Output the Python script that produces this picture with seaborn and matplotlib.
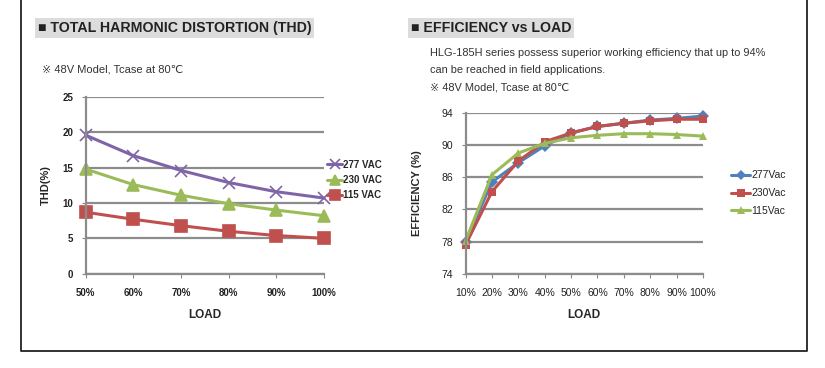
import pandas as pd
import matplotlib
matplotlib.use("Agg")
import matplotlib.pyplot as plt
from matplotlib.lines import Line2D
import seaborn as sns

# données
thd_load = [50, 60, 70, 80, 90, 100]
thd_277 = [19.6, 16.7, 14.6, 12.9, 11.6, 10.7]
thd_230 = [14.8, 12.6, 11.1, 9.9, 9.0, 8.2]
thd_115 = [8.7, 7.7, 6.8, 6.0, 5.4, 5.0]

eff_load = [10, 20, 30, 40, 50, 60, 70, 80, 90, 100]
eff_277 = [78.0, 85.4, 87.8, 89.9, 91.5, 92.3, 92.7, 93.1, 93.3, 93.6]
eff_230 = [77.6, 84.2, 88.0, 90.4, 91.5, 92.3, 92.7, 93.0, 93.2, 93.2]
eff_115 = [78.1, 86.3, 89.0, 90.2, 90.9, 91.2, 91.4, 91.4, 91.3, 91.1]

thd_labels = ["277 VAC", "230 VAC", "115 VAC"]
eff_labels = ["277Vac", "230Vac", "115Vac"]

purple, green, red, blue = "#7f64a8", "#9bbb59", "#c0504d", "#4f81bd"

sns.set_style("white")
plt.rcParams['font.family'] = ['Liberation Sans', 'DejaVu Sans', 'Noto Sans CJK SC']

W, H = 825, 368
fig = plt.figure(figsize=(W / 100, H / 100), dpi=100)


def box(x0, y0, x1, y1):
    return [x0 / W, 1 - y1 / H, (x1 - x0) / W, (y1 - y0) / H]


def style_ax(ax, ymin, ymax, step, xticks, fs, fw):
    ax.set_ylim(ymin, ymax)
    ax.set_xlim(xticks[0], xticks[-1])
    ax.set_yticks(range(ymin, ymax + 1, step))
    ax.set_yticklabels([str(v) for v in range(ymin, ymax + 1, step)], fontsize=fs, fontweight=fw)
    ax.set_xticks(xticks)
    ax.set_xticklabels([f"{t}%" for t in xticks], fontsize=fs, fontweight=fw)
    ax.tick_params(axis="y", length=3, color="#888888", direction="out", pad=6, left=True,
                   labelcolor="#222222")
    ax.tick_params(axis="x", length=3, color="#888888", direction="out", pad=7, bottom=True,
                   labelcolor="#222222")
    ax.yaxis.grid(True, color="#8c8c8c", lw=1.6)
    ax.xaxis.grid(False)
    for s in ["top", "right"]:
        ax.spines[s].set_visible(False)
    for s in ["left", "bottom"]:
        ax.spines[s].set_color("#8c8c8c")
        ax.spines[s].set_linewidth(1.6)
    ax.set_axisbelow(True)


def draw(ax, x, series, labels, colors, markers, ms, mew):
    for vals, lab, c, m in zip(series, labels, colors, markers):
        d = pd.DataFrame({"load": x, "val": vals})
        sns.lineplot(data=d, x="load", y="val", color=c, marker=m, lw=2.2,
                     markersize=ms, markeredgewidth=mew, markeredgecolor=c,
                     ax=ax, clip_on=False, label=lab)


# THD
ax1 = fig.add_axes(box(85.7, 97, 324, 273.7))
draw(ax1, thd_load, [thd_277, thd_230, thd_115], thd_labels,
     [purple, green, red], ["x", "^", "s"], 8, 1.2)
style_ax(ax1, 0, 25, 5, thd_load, 7, "bold")
ax1.set_xlabel("LOAD", fontsize=8.5, fontweight="bold", labelpad=8)
ax1.set_ylabel("THD(%)", fontsize=8, fontweight="bold", labelpad=8)
hd, lb = ax1.get_legend_handles_labels()
ax1.legend(hd, lb, frameon=False, prop={"weight": "bold", "size": 7},
           loc="center left", bbox_to_anchor=(0.975, 0.53), handlelength=1.6,
           handletextpad=0.1, labelspacing=0.55, markerscale=0.85)

# Efficacité
ax2 = fig.add_axes(box(465.6, 112.8, 703, 273.7))
draw(ax2, eff_load, [eff_277, eff_230, eff_115], eff_labels,
     [blue, red, green], ["D", "s", "^"], 6, 0)
style_ax(ax2, 74, 94, 4, eff_load, 7.5, "normal")
ax2.set_xlabel("LOAD", fontsize=8.5, fontweight="bold", labelpad=8)
ax2.set_ylabel("EFFICIENCY (%)", fontsize=8, fontweight="bold", labelpad=14)
hd, lb = ax2.get_legend_handles_labels()
ax2.legend(hd, lb, frameon=False, fontsize=7.5,
           loc="center left", bbox_to_anchor=(1.08, 0.5), handlelength=1.8,
           handletextpad=0.1, labelspacing=0.75, markerscale=0.9)

# titres et textes
fig.text(38 / W, 1 - 28 / H, "■ TOTAL HARMONIC DISTORTION (THD)", fontsize=10.2, fontweight="bold",
         va="center", color="#222222",
         bbox=dict(boxstyle="square,pad=0.2", fc="#dcdcdc", ec="none"))
fig.text(411 / W, 1 - 28 / H, "■ EFFICIENCY vs LOAD", fontsize=10.2, fontweight="bold",
         va="center", color="#222222",
         bbox=dict(boxstyle="square,pad=0.2", fc="#dcdcdc", ec="none"))
fig.text(42 / W, 1 - 69 / H, "※ 48V Model, Tcase at 80℃", fontsize=8, va="center", color="#333333")
fig.text(430 / W, 1 - 53 / H, "HLG-185H series possess superior working efficiency that up to 94%",
         fontsize=7.9, va="center", color="#333333")
fig.text(430 / W, 1 - 70 / H, "can be reached in field applications.", fontsize=7.9, va="center", color="#333333")
fig.text(430 / W, 1 - 87 / H, "※ 48V Model, Tcase at 80℃", fontsize=7.9, va="center", color="#333333")

# cadre
fig.add_artist(Line2D([21 / W, 21 / W, 807 / W, 807 / W], [1, 1 - 351 / H, 1 - 351 / H, 1],
                      transform=fig.transFigure, color="#222222", lw=1.3))

fig.savefig("out.png", dpi=100)
